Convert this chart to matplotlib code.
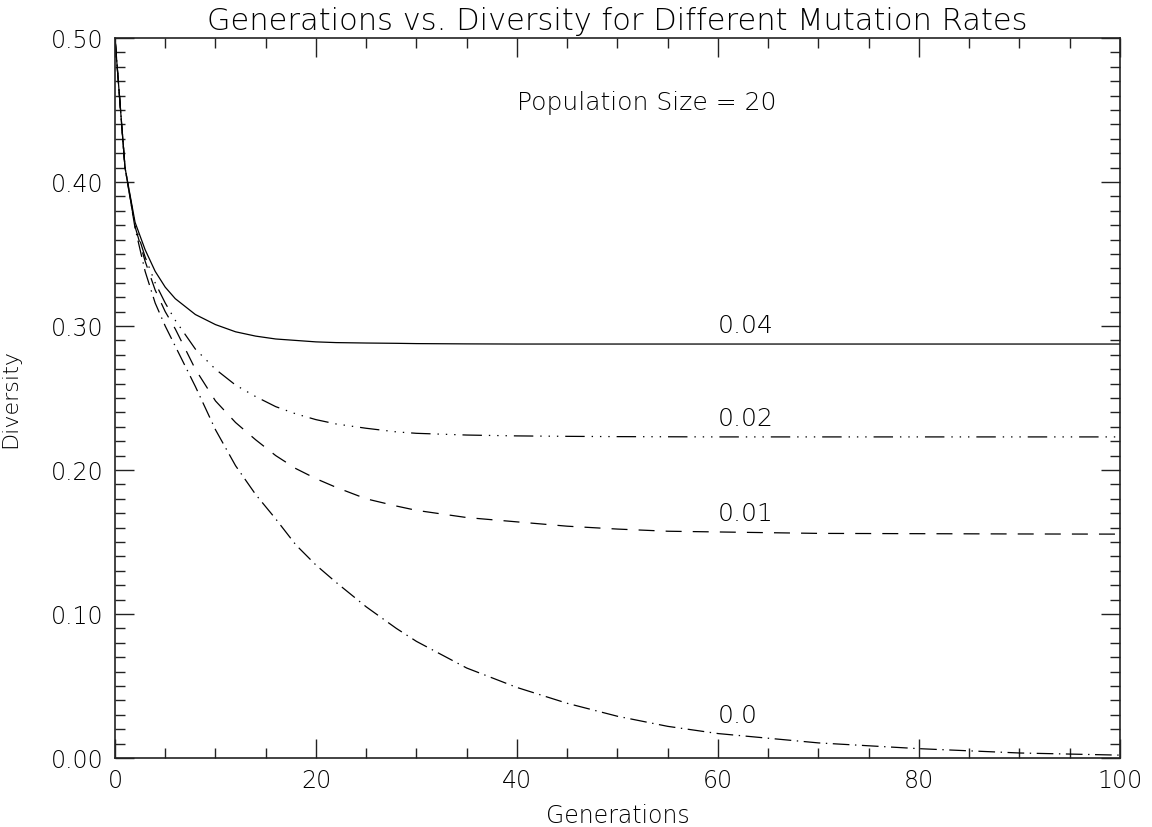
import matplotlib
matplotlib.use("Agg")
import matplotlib.pyplot as plt
from matplotlib.ticker import MultipleLocator, FormatStrFormatter

gens = [0, 1, 2, 3, 4, 5, 6, 8, 10, 12, 14, 16, 18, 20, 22, 25, 28, 30, 35, 40,
        45, 50, 55, 60, 70, 80, 90, 100]

div_004 = [0.500, 0.410, 0.372, 0.353, 0.338, 0.327, 0.319, 0.308, 0.301, 0.296,
           0.293, 0.291, 0.290, 0.289, 0.2885, 0.2882, 0.2880, 0.2878, 0.2876,
           0.2875, 0.2875, 0.2875, 0.2875, 0.2875, 0.2875, 0.2875, 0.2875, 0.2875]
div_002 = [0.500, 0.410, 0.370, 0.348, 0.330, 0.316, 0.304, 0.284, 0.270, 0.259,
           0.251, 0.244, 0.239, 0.235, 0.232, 0.229, 0.2265, 0.2255, 0.2243,
           0.2237, 0.2234, 0.2232, 0.2231, 0.2230, 0.2230, 0.2230, 0.2230, 0.2230]
div_001 = [0.500, 0.410, 0.369, 0.345, 0.325, 0.310, 0.298, 0.270, 0.248, 0.233,
           0.221, 0.210, 0.201, 0.194, 0.188, 0.180, 0.175, 0.172, 0.167,
           0.164, 0.161, 0.159, 0.1575, 0.157, 0.156, 0.1558, 0.1556, 0.1555]
div_000 = [0.500, 0.410, 0.368, 0.338, 0.316, 0.300, 0.286, 0.258, 0.228, 0.203,
           0.183, 0.166, 0.148, 0.134, 0.122, 0.105, 0.090, 0.081, 0.0625,
           0.049, 0.038, 0.029, 0.022, 0.017, 0.0105, 0.0065, 0.0035, 0.002]

rate_labels = ["0.04", "0.02", "0.01", "0.0"]
label_x = 60
label_y = [0.295, 0.2305, 0.1645, 0.0245]

plt.rcParams['font.family'] = ['DejaVu Sans']
plt.rcParams['font.weight'] = 'light'
plt.rcParams['axes.titleweight'] = 'light'
plt.rcParams['axes.labelweight'] = 'light'
plt.rcParams['lines.scale_dashes'] = False

fig = plt.figure(figsize=(11.52, 8.27), dpi=100)
ax = fig.add_axes([0.0998, 0.0834, 0.8724, 0.8706])

ax.plot(gens, div_004, color='black', lw=0.9, linestyle='-')
ax.plot(gens, div_002, color='black', lw=0.9,
        linestyle=(0, (14, 5, 1, 5, 1, 5, 1, 5)))
ax.plot(gens, div_001, color='black', lw=0.9, linestyle=(0, (11.5, 8)))
ax.plot(gens, div_000, color='black', lw=0.9, linestyle=(0, (12, 4, 1, 4)))

for lab, y in zip(rate_labels, label_y):
    ax.text(label_x, y, lab, fontsize=18, va='baseline', ha='left', color='black')

ax.text(40, 0.45, "Population Size = 20", fontsize=18, va='baseline', ha='left',
        color='black')

ax.set_xlim(0, 100)
ax.set_ylim(0, 0.5)
ax.xaxis.set_major_locator(MultipleLocator(20))
ax.xaxis.set_minor_locator(MultipleLocator(5))
ax.yaxis.set_major_locator(MultipleLocator(0.1))
ax.yaxis.set_minor_locator(MultipleLocator(0.01))
ax.yaxis.set_major_formatter(FormatStrFormatter('%.2f'))
ax.xaxis.set_major_formatter(FormatStrFormatter('%d'))

ax.tick_params(which='both', direction='in', top=True, right=True,
               labelsize=17, labelcolor='black', color='#222222')
ax.tick_params(which='major', length=14, width=1, pad=8)
ax.tick_params(which='minor', length=7, width=1)
for s in ax.spines.values():
    s.set_linewidth(1.2)
    s.set_color('#222222')

ax.set_xlabel("Generations", fontsize=17, color='black', labelpad=8)
ax.set_ylabel("Diversity", fontsize=16, color='black', labelpad=22)
ax.set_title("Generations vs. Diversity for Different Mutation Rates",
             fontsize=22, color='black', pad=6)

fig.savefig("out.png", dpi=100)
